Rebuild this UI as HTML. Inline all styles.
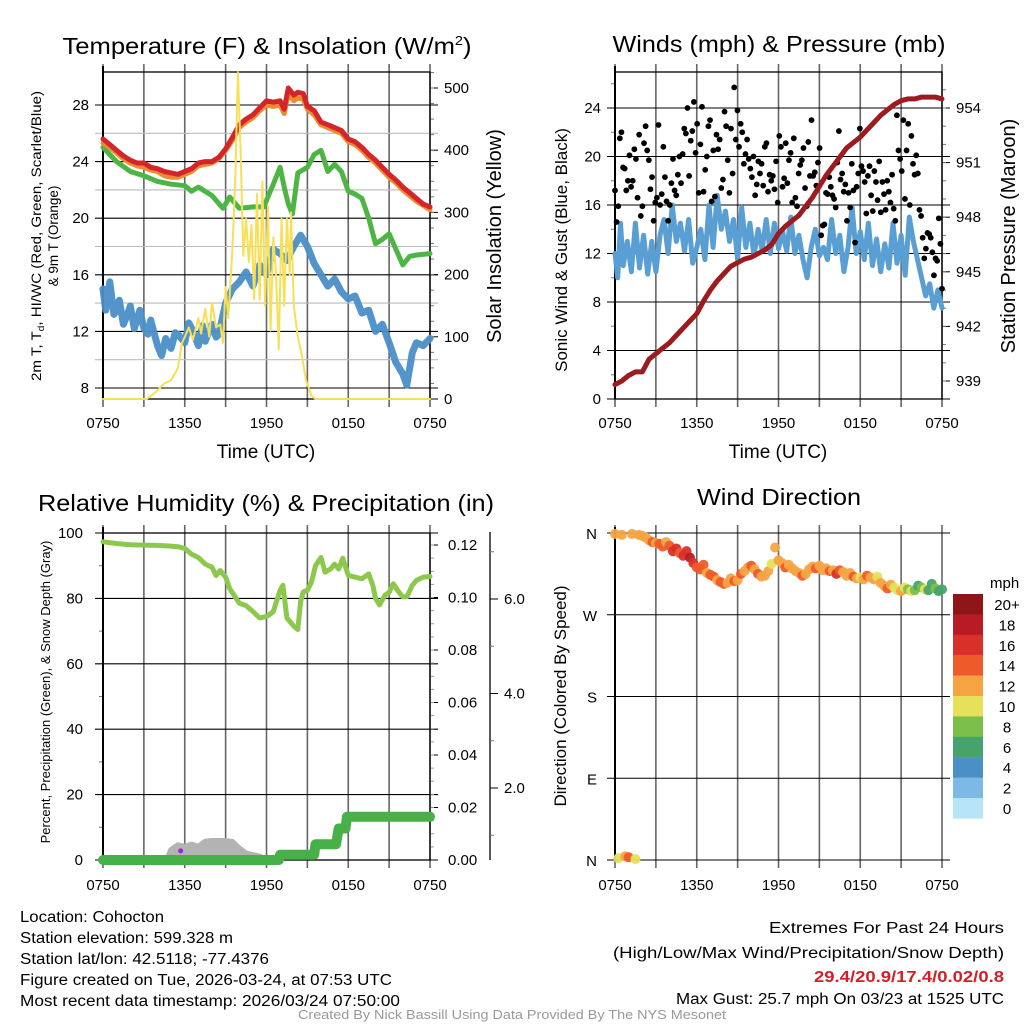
<!DOCTYPE html>
<html><head><meta charset="utf-8"><style>
html,body{margin:0;padding:0;background:#fff;}
svg{display:block;font-family:"Liberation Sans",sans-serif;}
</style></head><body>
<svg id="fig" width="1024" height="1024" viewBox="0 0 1024 1024" xmlns="http://www.w3.org/2000/svg">
<rect width="1024" height="1024" fill="#fff"/>
<g id="layer"></g>
<text x="267" y="54" text-anchor="middle" font-size="23" textLength="409" lengthAdjust="spacingAndGlyphs">Temperature (F) &amp; Insolation (W/m<tspan dy="-9" font-size="13">2</tspan><tspan dy="9">)</tspan></text>
<text x="779" y="52" text-anchor="middle" font-size="23" textLength="333" lengthAdjust="spacingAndGlyphs">Winds (mph) &amp; Pressure (mb)</text>
<text x="266" y="511" text-anchor="middle" font-size="23" textLength="456" lengthAdjust="spacingAndGlyphs">Relative Humidity (%) &amp; Precipitation (in)</text>
<text x="779" y="505" text-anchor="middle" font-size="23" textLength="164" lengthAdjust="spacingAndGlyphs">Wind Direction</text>
<text x="266" y="458" text-anchor="middle" font-size="19">Time (UTC)</text>
<text x="778" y="458" text-anchor="middle" font-size="19">Time (UTC)</text>
<text transform="translate(41,236) rotate(-90)" text-anchor="middle" font-size="13.5" textLength="290" lengthAdjust="spacingAndGlyphs">2m T, T<tspan font-size="9" dy="3">d</tspan><tspan dy="-3">, HI/WC (Red, Green, Scarlet/Blue)</tspan></text>
<text transform="translate(58,236) rotate(-90)" text-anchor="middle" font-size="13.5">&amp; 9m T (Orange)</text>
<text transform="translate(501,236) rotate(-90)" text-anchor="middle" font-size="20">Solar Insolation (Yellow)</text>
<text transform="translate(567,250) rotate(-90)" text-anchor="middle" font-size="17">Sonic Wind &amp; Gust (Blue, Black)</text>
<text transform="translate(1015,236) rotate(-90)" text-anchor="middle" font-size="20">Station Pressure (Maroon)</text>
<text transform="translate(50,692) rotate(-90)" text-anchor="middle" font-size="13">Percent, Precipitation (Green), &amp; Snow Depth (Gray)</text>
<text transform="translate(566,696) rotate(-90)" text-anchor="middle" font-size="17">Direction (Colored By Speed)</text>
<g font-size="15.5">
<text x="20" y="922" textLength="144" lengthAdjust="spacingAndGlyphs">Location: Cohocton</text>
<text x="20" y="943" textLength="213" lengthAdjust="spacingAndGlyphs">Station elevation: 599.328 m</text>
<text x="20" y="964" textLength="249" lengthAdjust="spacingAndGlyphs">Station lat/lon: 42.5118; -77.4376</text>
<text x="20" y="985" textLength="372" lengthAdjust="spacingAndGlyphs">Figure created on Tue, 2026-03-24, at 07:53 UTC</text>
<text x="20" y="1006" textLength="380" lengthAdjust="spacingAndGlyphs">Most recent data timestamp: 2026/03/24 07:50:00</text>
</g>
<g font-size="15.5" text-anchor="end">
<text x="1004" y="933" textLength="235" lengthAdjust="spacingAndGlyphs">Extremes For Past 24 Hours</text>
<text x="1004" y="958" textLength="391" lengthAdjust="spacingAndGlyphs">(High/Low/Max Wind/Precipitation/Snow Depth)</text>
<text x="1004" y="982" fill="#d0202a" font-weight="bold" textLength="190" lengthAdjust="spacingAndGlyphs">29.4/20.9/17.4/0.02/0.8</text>
<text x="1004" y="1004" textLength="328" lengthAdjust="spacingAndGlyphs">Max Gust: 25.7 mph On 03/23 at 1525 UTC</text>
</g>
<text x="512" y="1019" text-anchor="middle" font-size="12.5" fill="#999" textLength="428" lengthAdjust="spacingAndGlyphs">Created By Nick Bassill Using Data Provided By The NYS Mesonet</text>
</svg>
<script>
// ===== DATA =====
const timeLabels = ["0750","1350","1950","0150","0750"];
const tempTicks = [8,12,16,20,24,28];
const solarTicks = [0,100,200,300,400,500];
const windTicks = [0,4,8,12,16,20,24];
const presTicks = [939,942,945,948,951,954];
const rhTicks = [0,20,40,60,80,100];
const precipTicks = ["0.00","0.02","0.04","0.06","0.08","0.10","0.12"];
const snowTicks = ["2.0","4.0","6.0"];
const dirLabels = ["N","W","S","E","N"];
const speedBins = ["20+","18","16","14","12","10","8","6","4","2","0"];
const binColors = ["#8e1518","#b71b23","#d9302a","#ee5b2a","#f6a443","#e6e05a","#7cc04b","#46a36e","#4b8fc5","#7cb9e4","#b8e4f7"];

const redH = [0,0.5,1,1.5,2,2.5,3,3.5,4,4.5,5,5.5,6,6.5,7,7.5,8,8.5,9,9.5,10,10.5,11,11.5,12,12.5,13,13.3,13.6,14,14.3,14.7,15,15.5,16,16.5,17,17.5,18,18.5,19,19.5,20,20.5,21,21.5,22,22.5,23,23.5,24];
const redV = [25.6,25.2,24.8,24.4,24.1,23.9,23.9,23.6,23.5,23.3,23.2,23.1,23.3,23.5,23.9,24.0,24.0,24.3,24.9,25.7,26.6,27.0,27.3,27.8,28.3,28.2,28.3,27.7,29.2,28.7,28.9,28.8,27.9,27.6,26.8,26.6,26.4,26.2,25.6,25.4,25.0,24.5,24.1,23.6,23.1,22.7,22.2,21.8,21.4,21.0,20.8];
const orangeV = [25.3,25.0,24.6,24.2,23.9,23.7,23.6,23.4,23.3,23.0,22.9,22.9,23.1,23.3,23.7,23.8,23.9,24.2,24.8,25.5,26.4,26.8,27.1,27.6,28.0,27.9,28.0,27.4,28.8,28.3,28.5,28.4,27.7,27.3,26.6,26.4,26.2,26.0,25.4,25.2,24.8,24.3,23.9,23.4,22.9,22.5,22.0,21.6,21.2,20.9,20.6];
const greenH = [0,1,2,3,4,5,6,6.5,7,8,8.8,9.3,10,11,11.8,12.5,13,13.3,13.6,13.9,14.3,15,15.5,16,16.5,17,17.5,18,18.5,19,19.5,20,20.5,21,21.5,22,22.5,23,24];
const greenV = [25.0,24.0,23.3,23.0,22.6,22.4,22.3,21.9,22.2,21.6,20.7,21.5,20.7,20.8,20.8,22.4,23.6,22.2,21.0,20.3,23.2,23.6,24.5,24.8,23.3,23.8,23.3,21.9,21.7,21.4,20.0,18.2,18.5,18.9,17.8,16.7,17.3,17.4,17.5];
const dewH = [0,0.2,0.5,0.8,1,1.2,1.5,1.8,2,2.3,2.7,3,3.3,3.5,4,4.3,4.6,5,5.3,5.5,6,6.3,6.5,7,7.3,7.5,8,8.3,8.5,9,9.5,10,10.5,11,11.5,12,12.5,13,13.5,14,14.5,15,15.5,16,16.5,17,17.5,18,18.5,19,19.5,20,20.5,21,21.5,22,22.3,22.7,23,23.5,24];
const dewV = [15,13.5,15.5,13.2,13.5,14.2,12.5,13.2,13.8,12.2,13.5,12.2,11.8,12.8,11.0,10.3,11.5,10.8,11.9,11.8,11.2,12.6,12.2,11.0,12.4,11.3,12.5,11.6,11.8,14.0,15.0,15.5,16.2,15.2,16.7,16.0,17.8,17.5,17.0,18.0,18.8,18.0,16.8,16.0,15.2,15.7,14.8,14.3,14.5,13.3,13.5,12.0,12.5,11.2,9.8,9.0,8.2,10.5,11.2,11.0,11.5];
const solarH = [0,3.2,3.8,4.5,5,5.5,5.8,6,6.3,6.6,7,7.2,7.5,7.8,8,8.3,8.6,8.8,9.0,9.2,9.5,9.7,9.9,10.1,10.3,10.5,10.7,10.9,11.1,11.3,11.5,11.7,11.9,12.1,12.3,12.5,12.7,12.9,13.1,13.3,13.5,13.7,13.8,14.0,14.3,14.6,14.9,15.3,15.6,24];
const solarV = [0,0,10,25,30,50,90,100,115,95,130,105,145,100,155,115,120,90,180,130,240,350,525,400,230,290,220,280,160,330,160,350,150,310,110,260,200,80,290,150,290,200,300,150,100,70,30,5,0,0];

const presH = [0,0.5,1,1.5,2,2.5,3,3.5,4,4.5,5,5.5,6,6.5,7,7.5,8,8.5,9,9.5,10,10.5,11,11.5,12,12.5,13,13.5,14,14.5,15,15.5,16,16.5,17,17.5,18,18.5,19,19.5,20,20.5,21,21.5,22,22.5,23,23.5,24];
const presV = [938.8,939.0,939.3,939.5,939.5,940.2,940.5,940.8,941.1,941.5,941.9,942.3,942.7,943.4,944.0,944.5,944.9,945.3,945.5,945.7,945.8,946.0,946.2,946.5,947.1,947.5,947.8,948.1,948.6,949.1,949.7,950.3,950.8,951.3,951.8,952.1,952.4,952.8,953.2,953.6,953.9,954.2,954.4,954.5,954.5,954.6,954.6,954.6,954.5];
const windH = [0,0.2,0.4,0.6,0.9,1.2,1.5,1.8,2.1,2.4,2.7,3,3.3,3.6,3.9,4.2,4.5,4.8,5.1,5.4,5.7,6,6.3,6.6,6.9,7.2,7.5,7.8,8.1,8.4,8.7,9,9.3,9.6,9.9,10.2,10.5,10.8,11.1,11.4,11.7,12,12.3,12.6,12.9,13.2,13.5,13.8,14.1,14.4,14.7,15,15.3,15.6,15.9,16.2,16.5,16.8,17.1,17.4,17.7,18,18.3,18.6,18.9,19.2,19.5,19.8,20.1,20.4,20.7,21,21.3,21.6,21.9,22.2,22.5,22.8,23.1,23.4,23.7,24];
const windV = [12,10,14.5,11,13,10.5,14.5,10.8,13.5,10.3,13.0,10.5,13.5,14.8,12,16,13,14.5,12.2,14.8,11.2,12.5,14.0,11.5,16,12.5,16.8,14,15.5,13,14.8,11.5,15.8,12.5,14.5,11.8,14.0,12.3,14.8,12.0,14.5,12.4,13.8,12.2,15.0,12.0,13.5,11.5,10.0,12.5,14.0,11.8,12.5,11.5,14.8,12.0,13.5,10.5,12.5,15.8,12.0,13.8,11.5,14.5,11.0,13.2,10.5,12.8,10.8,14.5,11.2,13.5,10.2,15.0,13.0,11.5,10.0,8.5,9.5,7.5,9.0,7.5];
const gustV = [17.2,14.6,15.9,21.5,22,19.1,19,17.2,18,20.1,17.5,18,20.6,19.8,16.6,21.8,15.1,15.9,21.1,22.5,20.5,19.7,17.3,18.3,14.7,16.2,16.6,22.6,16.0,16.9,20.8,18.3,16.3,14.7,16,17.8,19.8,17.2,16.8,18.5,20.0,17.8,20.2,22.3,21.9,24,18.4,21.3,22.1,24.5,20.3,22.7,17,21,24.1,17.1,18.9,20,22.5,23,16.3,20.5,16.7,21.8,20.6,21.4,17.4,18.1,23.7,22.5,19.7,17,22.3,18.6,25.7,21.4,23.8,20.8,22.7,22,19.4,20.2,21.4,19.8,19,18.3,20,16.8,17.7,19.6,18.6,19.4,17.6,20.8,21.1,17.1,18.5,18,18.4,17.3,19.6,16.2,21.7,20.8,17.5,18.2,21.1,17.8,19.7,20.3,16.2,21.5,16.6,15.9,18.6,19.3,19.7,20.7,17.4,15.9,21.2,18.4,23,18.4,18.7,17.6,19.5,20.7,13.5,14.3,14.4,17.0,16.9,18.3,17.5,16.8,16.5,15.8,19.5,22.1,18.1,18.6,17.1,17.7,14.7,17.0,15.8,19.4,17.2,12.9,17.5,18.6,22.3,19.2,18.8,17.9,15.3,18.4,19.2,16.8,15.5,18.8,17.9,16.4,19.6,15.4,17.9,16.9,15.6,18,17.1,16.2,18.5,15.7,14.7,23.4,20.5,19.8,18.8,23,16.5,20.5,22.7,16,21.7,19.4,18.5,20.1,18.6,15.6,15.1,13.3,11.6,12.4,13.7,13.6,13.3,12.1,10.2,11.6,11.4,14.9,12.8,9.1];

const rhH = [0,1,2,3,4,5,5.5,6,6.5,7,7.5,8,8.3,8.6,9,9.3,9.7,10,10.5,11,11.5,12,12.2,12.5,13,13.2,13.5,14,14.3,14.5,14.7,15,15.3,15.6,16,16.3,16.7,17,17.3,17.6,18,18.5,19,19.5,19.8,20,20.3,20.7,21,21.3,21.7,22,22.3,22.7,23,23.5,24];
const rhV = [97.3,96.8,96.4,96.3,96.2,96.0,95.8,95.3,93.5,92.5,90.5,89.5,87,88.5,86.5,83,80.5,78.5,77.8,76,74,74.5,75,76,82.5,84,74,71.5,70.5,79,82,82.5,85,90,92.5,88,89,90.5,89,92.3,87,86.5,86,87.5,84,80,78,81,81.8,84.5,82,80.5,80.5,84,85.5,86.5,86.7];
const precipH = [0,12.9,13.0,15.5,15.6,17.1,17.3,17.8,17.9,24];
const precipV = [0,0,0.002,0.002,0.006,0.006,0.012,0.012,0.0165,0.0165];
const snowH = [4.7,5.0,5.5,6,6.5,7,7.5,8,9,9.5,10,10.5,11.5,12];
const snowV = [0,3,4.5,4,4.7,4,5.6,5.8,5.8,5.5,3.5,2,1,0];

const dirV = [359,2,358,4,3,359,1,358,357,
355,352,350,349, 348,345,350,346, 340,343,338,335, 340,333,327,322,
320,325,316,314, 312,308,306,304, 305,310,307,308, 315,318,322,324,
320,315,312,313, 318,326,344,330, 327,322,325,321, 318,316,313,315,
320,323,321,324, 319,321,318,319, 315,319,317,313, 316,312,310,311,
309,313,311,309, 312,305,302,299, 303,300,297,296, 300,298,296,297,
302,300,298,297, 304,299,296,298];
const spdV = [12,11,13,12,14,12,11,13,12,
13,12,14,13, 14,15,13,14, 16,17,15,16, 17,18,16,15, 15,14,13,15,
14,13,15,14, 12,13,14,13, 14,13,12,14, 13,14,12,13, 12,10,12,13,
13,14,12,13, 13,12,14,13, 12,13,14,12, 13,12,14,13, 16,15,13,12,
13,14,12,11, 12,14,13,12, 11,13,12,14, 12,11,10,12, 10,9,11,8,
7,9,10,7, 6,8,7,6];

// ===== DRAWING =====
const NS = "http://www.w3.org/2000/svg";
const layer = document.getElementById("layer");
function mk(tag, attrs, parent){ const e=document.createElementNS(NS,tag); for(const k in attrs) e.setAttribute(k,attrs[k]); (parent||layer).appendChild(e); return e; }
function lin(d0,d1,r0,r1){ return v => r0+(v-d0)*(r1-r0)/(d1-d0); }

const XL0=103, XL1=430, XR0=615, XR1=942;
const xTL = lin(0,24,XL0,XL1), xTR = lin(0,24,XR0,XR1);

function frame(x0,x1,y0,y1,name){
  const g=mk("g",{});
  
  
  for(let i=0;i<=8;i++){
    const x=x0+(x1-x0)*i/8;
    const l=mk("line",{x1:x,x2:x,y1:y0-8,y2:y1+8,stroke:"#666","stroke-width":1.6},g);
    
    
  }
  return g;
}
function hline(g,x0,x1,y,col){
  const l=mk("line",{x1:x0-8,x2:x1+8,y1:y,y2:y,stroke:col||"#000","stroke-width":1.1},g);
  
  
}
function label(g,x,y,txt,anchor,size,name){
  const t=mk("text",{x:x,y:y,"text-anchor":anchor,"font-size":size||15},g);
  t.textContent=txt;
  
  
  return t;
}
function path(g,xs,ys,fx,fy,stroke,w,name,extra){
  let d="";
  for(let i=0;i<xs.length;i++) d+=(i?"L":"M")+fx(xs[i]).toFixed(1)+","+fy(ys[i]).toFixed(1);
  const p=mk("path",Object.assign({d:d,fill:"none",stroke:stroke,"stroke-width":w,"stroke-linejoin":"round","stroke-linecap":"round"},extra||{}),g);
  
  
  return p;
}
function xlabels(g,x0,x1,y){
  timeLabels.forEach((t,i)=>{ label(g,x0+(x1-x0)*i/4,y,t,"middle",15,'x-tick-label'); });
}

// ---- Panel 1: temperature ----
(function(){
  const g=frame(XL0,XL1,72,399,'temperature-panel');
  const yT=lin(8,28,388,105), yS=lin(0,500,399,88);
  [10,14,18,22,26].forEach(v=>hline(g,XL0,XL1,yT(v),"#bbb"));
  tempTicks.forEach(v=>{ hline(g,XL0,XL1,yT(v)); label(g,XL0-14,yT(v)+5,String(v),"end",15,'temp-tick-label'); });
  solarTicks.forEach(v=>{ mk("line",{x1:XL1,x2:XL1+8,y1:yS(v),y2:yS(v),stroke:"#000"},g); label(g,XL1+14,yS(v)+5,String(v),"start",15,'solar-tick-label'); });
  for(let v=25;v<=525;v+=25){ if(yS(v)>72) mk("line",{x1:XL1,x2:XL1+4,y1:yS(v),y2:yS(v),stroke:"#777"},g); }
  mk("rect",{x:XL0,y:72,width:XL1-XL0,height:327,fill:"none",stroke:"#000","stroke-width":1.3},g);
  mk("line",{x1:XL0,x2:XL0,y1:66,y2:399,stroke:"#000","stroke-width":2},g);
  path(g,dewH,dewV,xTL,yT,"#4a8fc8",7,'dewpoint-line',{opacity:0.95});
  path(g,greenH,greenV,xTL,yT,"#4db544",5,'green-temp-line');
  path(g,redH,orangeV,xTL,yT,"#f08a30",5,'orange-9m-temp-line');
  path(g,redH,redV,xTL,yT,"#d4252a",5,'red-temp-line');
  path(g,solarH,solarV,xTL,yS,"#f7df57",2,'solar-insolation-line');
  xlabels(g,XL0,XL1,428);
})();

// ---- Panel 2: winds ----
(function(){
  const g=frame(XR0,XR1,72,399,'winds-panel');
  const yW=lin(0,24,399,108), yP=lin(939,954,381,108);
  windTicks.forEach(v=>{ hline(g,XR0,XR1,yW(v)); label(g,XR0-14,yW(v)+5,String(v),"end",15,'wind-tick-label'); });
  for(let v=2;v<=26;v+=4) mk("line",{x1:XR0-4,x2:XR0,y1:yW(v),y2:yW(v),stroke:"#777"},g);
  presTicks.forEach(v=>{ mk("line",{x1:XR1,x2:XR1+8,y1:yP(v),y2:yP(v),stroke:"#000"},g); label(g,XR1+14,yP(v)+5,String(v),"start",15,'pressure-tick-label'); });
  for(let v=938;v<=955;v+=1){ if(yP(v)>72&&yP(v)<399) mk("line",{x1:XR1,x2:XR1+4,y1:yP(v),y2:yP(v),stroke:"#777"},g); }
  mk("rect",{x:XR0,y:72,width:XR1-XR0,height:327,fill:"none",stroke:"#000","stroke-width":1.3},g);
  mk("line",{x1:XR0,x2:XR0,y1:66,y2:399,stroke:"#000","stroke-width":2},g);
  path(g,windH,windV,xTR,yW,"#5a9fd4",5,'wind-speed-line');
  const n=gustV.length;
  gustV.forEach((v,i)=>{
    const c=mk("circle",{cx:xTR(i*24/(n-1)),cy:yW(v),r:2.9,fill:"#000"},g);
    
    
  });
  path(g,presH,presV,xTR,yP,"#9b1b1e",5,'pressure-line');
  xlabels(g,XR0,XR1,428);
})();

// ---- Panel 3: humidity ----
(function(){
  const g=frame(XL0,XL1,533,860,'humidity-panel');
  const yR=lin(0,100,860,533), yPr=lin(0,0.12,860,545);
  rhTicks.forEach(v=>{ hline(g,XL0,XL1,yR(v)); label(g,XL0-20,yR(v)+5,String(v),"end",15,'rh-tick-label'); });
  for(let v=10;v<=90;v+=20) mk("line",{x1:XL0-4,x2:XL0,y1:yR(v),y2:yR(v),stroke:"#777"},g);
  precipTicks.forEach((t,i)=>{ const y=yPr(i*0.02); mk("line",{x1:XL1,x2:XL1+8,y1:y,y2:y,stroke:"#000"},g); label(g,XL1+18,y+5,t,"start",15,'precip-tick-label'); });
  for(let v=0.005;v<0.125;v+=0.005) mk("line",{x1:XL1,x2:XL1+4,y1:yPr(v),y2:yPr(v),stroke:"#999"},g);
  mk("line",{x1:490,x2:490,y1:532,y2:860,stroke:"#000","stroke-width":1.3},g);
  const ySn=lin(2,6,788,599);
  snowTicks.forEach(t=>{ const y=ySn(parseFloat(t)); mk("line",{x1:490,x2:498,y1:y,y2:y,stroke:"#000"},g); label(g,504,y+5,t,"start",15,'snow-tick-label'); });
  [1,3,5,7].forEach(v=>{ const y=ySn(v); if(y>532) mk("line",{x1:490,x2:494,y1:y,y2:y,stroke:"#777"},g); });
  mk("rect",{x:XL0,y:533,width:XL1-XL0,height:327,fill:"none",stroke:"#000","stroke-width":1.3},g);
  mk("line",{x1:XL0,x2:XL0,y1:527,y2:860,stroke:"#000","stroke-width":2},g);
  let d="";
  snowH.forEach((h,i)=>{ d+=(i?"L":"M")+xTL(h).toFixed(1)+","+yR(snowV[i]).toFixed(1); });
  const sp=mk("path",{d:d+"Z",fill:"#b3b3b3",stroke:"#b3b3b3","stroke-width":6,"stroke-linejoin":"round"},g);
  
  
  const pu=mk("circle",{cx:xTL(5.7),cy:yR(2.8),r:2.5,fill:"#a020f0"},g);
  
  
  path(g,precipH,precipV,xTL,yPr,"#47b048",10,'precipitation-line');
  path(g,rhH,rhV,xTL,yR,"#8cc84b",5,'relative-humidity-line');
  xlabels(g,XL0,XL1,890);
})();

// ---- Panel 4: wind direction ----
(function(){
  const g=frame(XR0,XR1,533,860,'wind-direction-panel');
  const yD=lin(0,360,860,533);
  dirLabels.forEach((t,i)=>{ const y=533+i*(860-533)/4; hline(g,XR0,XR1,y); label(g,XR0-18,y+6,t,"end",15,'direction-tick-label'); });
  mk("line",{x1:XR0,x2:XR0,y1:527,y2:860,stroke:"#000","stroke-width":2},g);
  const n=dirV.length;
  dirV.forEach((dv,i)=>{
    const s=spdV[i];
    const bin=Math.max(0,Math.min(10,10-Math.floor(s/2)));
    const c=mk("circle",{cx:xTR(i*24/(n-1)),cy:yD(dv),r:5,fill:binColors[bin],opacity:0.95},g);
    
    
  });
  xlabels(g,XR0,XR1,890);
  const cb=mk("g",{},g);
  
  
  label(cb,990,588,"mph","start",15,'colorbar-title');
  speedBins.forEach((t,i)=>{
    const y=594+i*20.4;
    const r=mk("rect",{x:953,y:y,width:30,height:20.6,fill:binColors[i]},cb);
    
    
    label(cb,1007,y+16,t,"middle",15,'colorbar-label');
  });
})();
</script>
</body></html>
